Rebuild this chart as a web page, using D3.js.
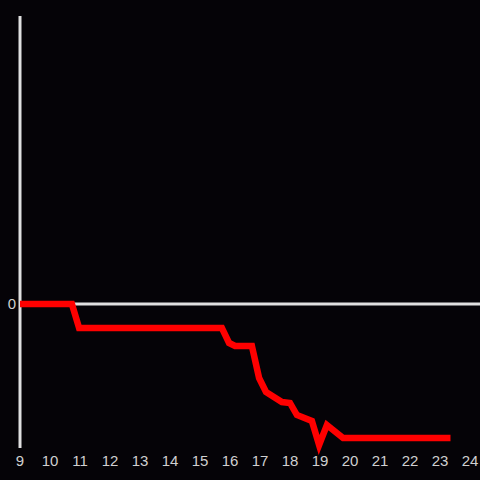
<!DOCTYPE html>
<html><head><meta charset="utf-8">
<script src="https://cdn.jsdelivr.net/npm/d3@7/dist/d3.min.js"></script>
<style>html,body{margin:0;padding:0;background:#050307;}</style>
</head><body>
<script>
const hours = [9,10.73,10.97,15.73,15.97,16.17,16.73,16.97,17.2,17.73,18,18.23,18.73,18.97,19.23,19.77,23.35];
const values = [0,0,-2,-2,-3.25,-3.5,-3.5,-6.17,-7.33,-8.17,-8.25,-9.25,-9.75,-11.75,-10.08,-11.17,-11.17];
const xTicks = [9,10,11,12,13,14,15,16,17,18,19,20,21,22,23,24];
const yTicks = [0];

const W=480,H=480;
const svg=d3.select("body").append("svg").attr("width",W).attr("height",H).style("background","#050307");
const x=d3.scaleLinear().domain([9,24]).range([20,470]);
const y=d3.scaleLinear().domain([-12,24]).range([448,16]);

svg.append("line").attr("x1",x(9)).attr("x2",W).attr("y1",y(0)).attr("y2",y(0))
  .attr("stroke","#e0e0e0").attr("stroke-width",3);
svg.append("line").attr("x1",x(9)).attr("x2",x(9)).attr("y1",y(24)).attr("y2",y(-12))
  .attr("stroke","#e0e0e0").attr("stroke-width",3);

const pts=hours.map((h,i)=>[h,values[i]]);
svg.append("path").datum(pts)
  .attr("d",d3.line().x(d=>x(d[0])).y(d=>y(d[1])))
  .attr("fill","none").attr("stroke","#ff0000").attr("stroke-width",6.5);

svg.selectAll(".xt").data(xTicks).enter().append("text")
  .attr("x",d=>x(d)).attr("y",466).attr("text-anchor","middle")
  .attr("fill","#d0d0d0").attr("font-family","'Liberation Sans', Arial, sans-serif").attr("font-size",15)
  .text(d=>d);
svg.selectAll(".yt").data(yTicks).enter().append("text")
  .attr("x",16).attr("y",d=>y(d)).attr("dy","0.36em").attr("text-anchor","end")
  .attr("fill","#d0d0d0").attr("font-family","'Liberation Sans', Arial, sans-serif").attr("font-size",15)
  .text(d=>d);
</script>
</body></html>
